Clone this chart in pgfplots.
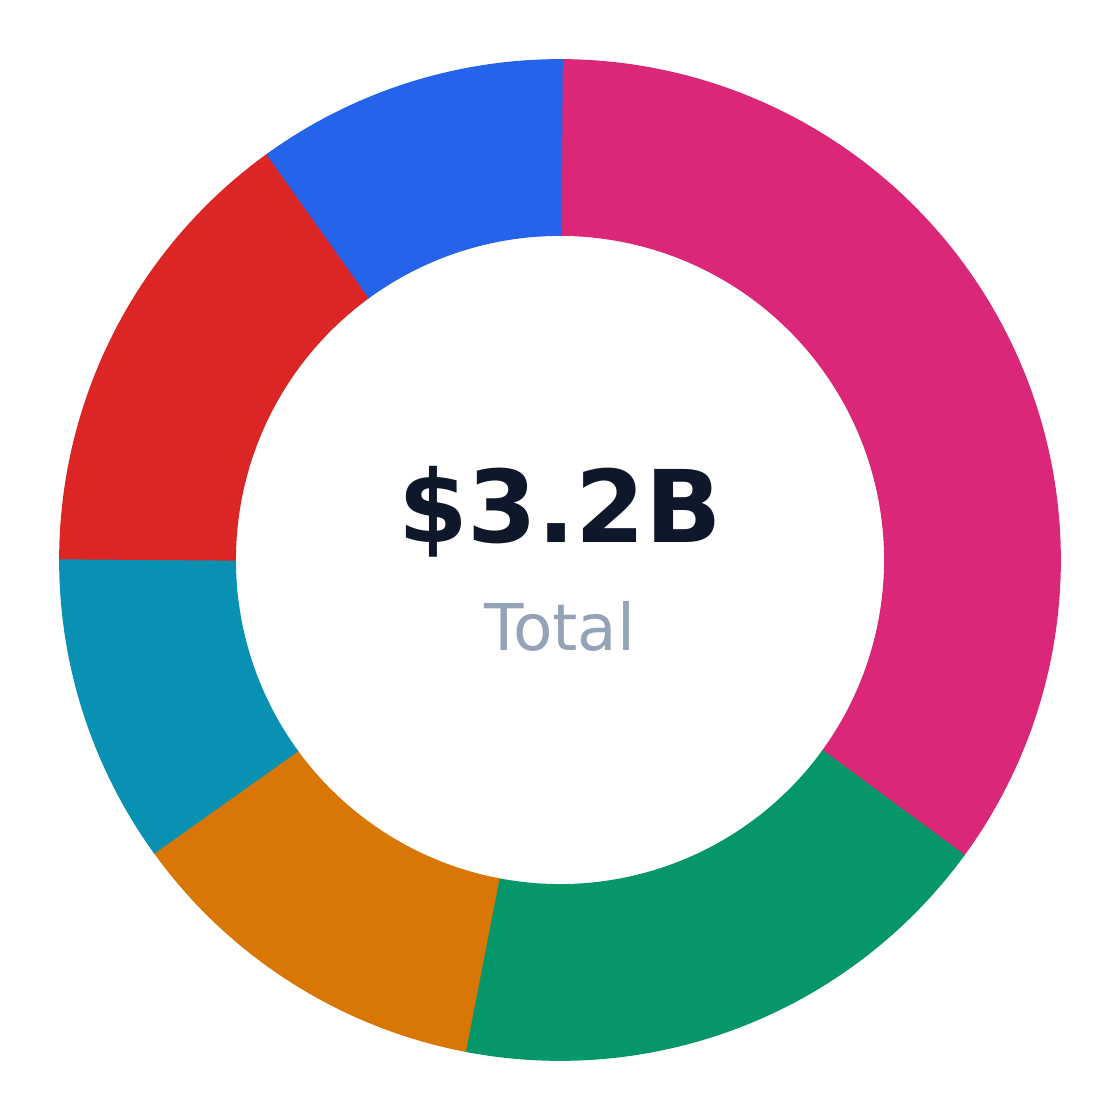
\documentclass[border=0pt]{standalone}
\usepackage{pgfplots}
\pgfplotsset{compat=1.18}
\usepackage{fontspec}
\setmainfont{DejaVu Sans}

\definecolor{cpink}{HTML}{DB2777}
\definecolor{cgreen}{HTML}{059669}
\definecolor{corange}{HTML}{D97706}
\definecolor{cteal}{HTML}{0891B2}
\definecolor{cred}{HTML}{DC2626}
\definecolor{cblue}{HTML}{2563EB}
\definecolor{ctext}{HTML}{0F172A}
\definecolor{csub}{HTML}{94A3B8}

\begin{document}
\begin{tikzpicture}
  \begin{axis}[
      scale only axis,
      width=420pt, height=420pt,
      xmin=-1.118, xmax=1.118,
      ymin=-1.118, ymax=1.118,
      axis line style={draw=none},
      xtick=\empty, ytick=\empty,
      clip=false,
  ]
    % share of each slice in percent, clockwise from 12 o'clock
    \def\acc{0}
    \pgfplotsforeachungrouped \v/\c in {35/cpink,18/cgreen,12/corange,10/cteal,15/cred,10/cblue}{
      \pgfmathsetmacro\a{90-3.6*\acc}
      \pgfmathsetmacro\acc{\acc+\v}
      \pgfmathsetmacro\b{90-3.6*\acc-0.3}
      \edef\temp{\noexpand\addplot[draw=\c, line width=66.3pt, line cap=butt,
        domain=\b:\a, samples=120] ({0.8235*cos(x)},{0.8235*sin(x)});}
      \temp
    }
    \node[anchor=base, text=ctext, font=\fontsize{37.6}{40}\selectfont\bfseries]
      at (axis cs:0,0.034) {\$3.2B};
    \node[anchor=base, text=csub, font=\fontsize{24.2}{27}\selectfont]
      at (axis cs:0,-0.18) {Total};
  \end{axis}
\end{tikzpicture}
\end{document}
